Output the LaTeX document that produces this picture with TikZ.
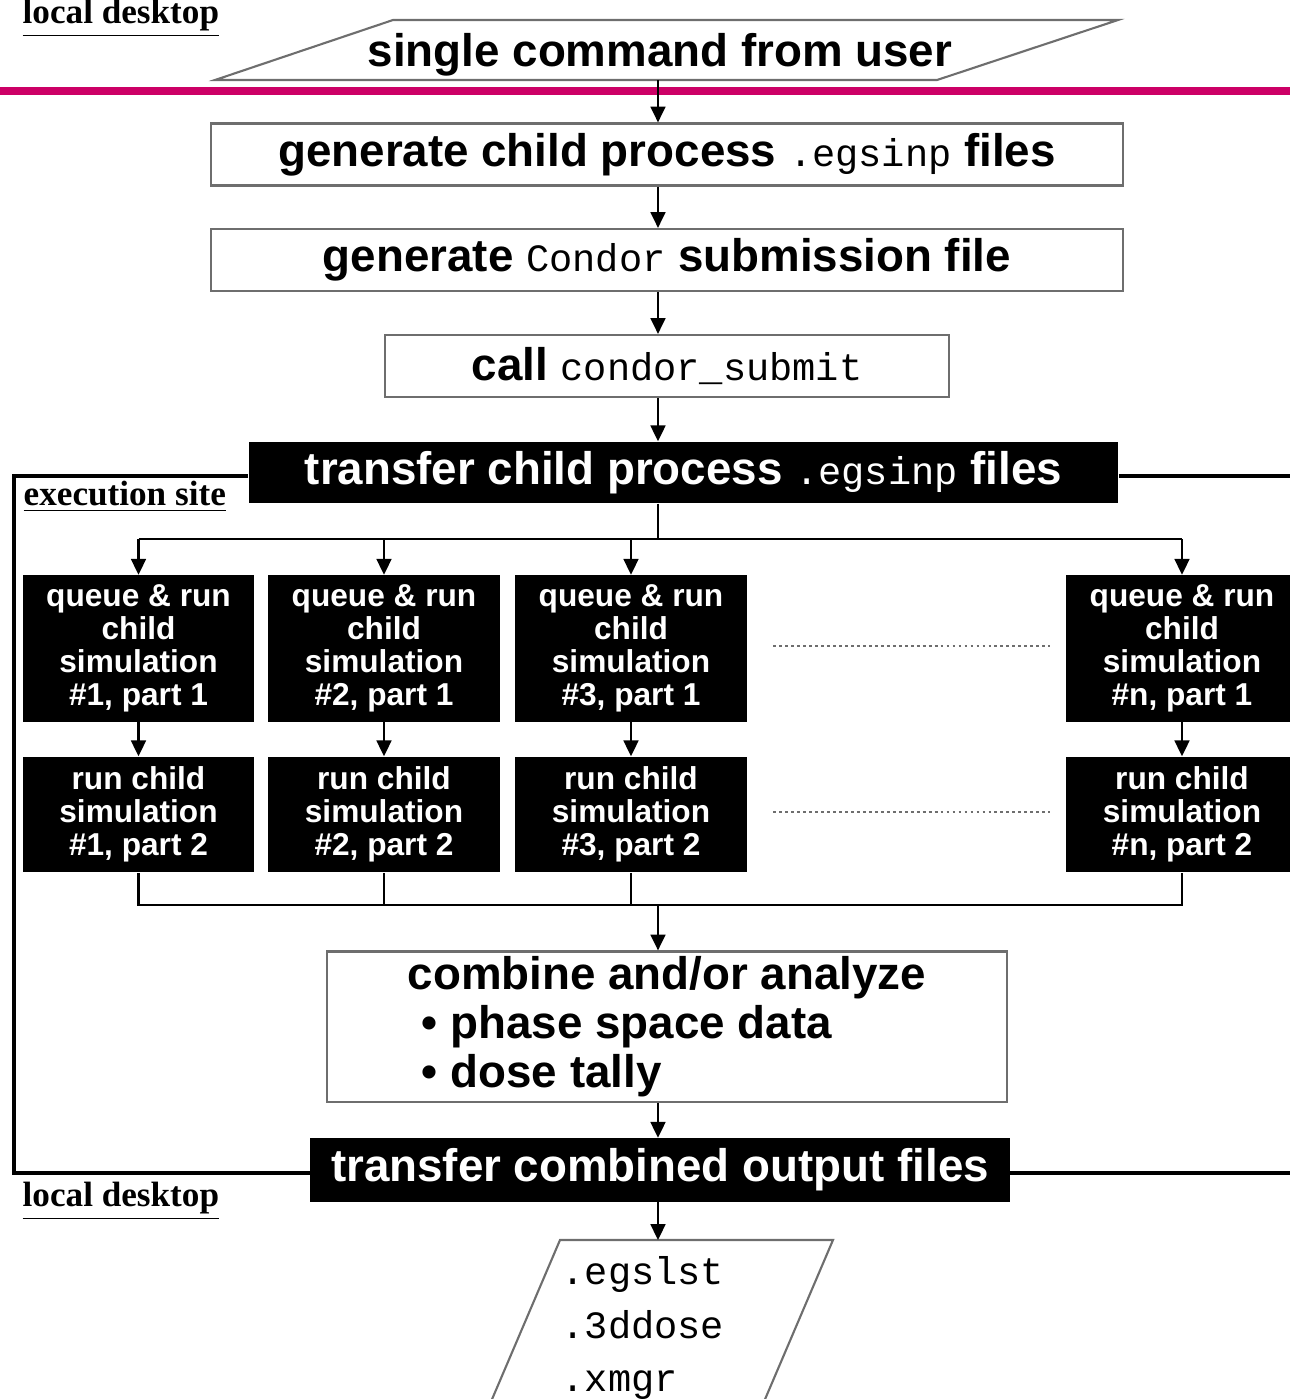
\documentclass[tikz,border=0pt]{standalone}
\usepackage{fontspec}
\setmainfont{Liberation Serif}
\setsansfont{Liberation Sans}
\setmonofont{Liberation Mono}
\usetikzlibrary{arrows.meta}
\definecolor{slidemagenta}{RGB}{204, 0, 102}
\definecolor{boxgray}{RGB}{110, 110, 110}
\newcommand\boxfont{\fontsize{13}{14}\selectfont\sffamily\bfseries}
\newcommand\simfont{\fontsize{9}{9.4}\selectfont\sffamily\bfseries}
\newcommand\codefont{\fontsize{11}{13}\selectfont\ttfamily\mdseries}
\newcommand\sitefont{\fontsize{10}{12}\selectfont\rmfamily\bfseries}
\newcommand\code[1]{{\codefont #1}}

\begin{document}
\begin{tikzpicture}[x=0.01cm, y=-0.01cm,
    conn/.style={line width=0.7pt},
    arr/.style={conn, -{Triangle[length=4.5pt,width=4.2pt]}},
    frame/.style={line width=1pt},
    wbox/.style={draw=boxgray, line width=0.6pt, fill=white, inner sep=0pt, font=\boxfont},
    bbox/.style={fill=black, text=white, inner sep=0pt, font=\boxfont},
    simbox/.style={fill=black, text=white, inner sep=0pt, minimum width=2.31cm, align=center, font=\simfont},
    site/.style={font=\sitefont, inner sep=0pt, anchor=base west},
    dots/.style={boxgray, line width=0.6pt, dash pattern=on 0.8pt off 0.9pt}]
        \useasboundingbox (0,0) rectangle (1290,1399);

        % Local desktop, top
        \node[site] (ldtop) at (22,23) {\underline{local desktop}};
        \draw[boxgray, line width=0.6pt] (215,80) -- (393,20) -- (1118,20) -- (937,80) -- cycle;
        \node[font=\boxfont, inner sep=0pt] (user) at (660,55) {single command from user};
        \coordinate (userb) at (658,80);
        \draw[slidemagenta, line width=2pt] (0,91) -- (1290,91);

        % Preparation steps
        \node[wbox, minimum width=9.12cm, minimum height=0.62cm] (gen) at (667,154.5)
            {generate child process \code{.egsinp} files};
        \node[wbox, minimum width=9.12cm, minimum height=0.62cm] (cond) at (667,260)
            {generate \code{Condor} submission file};
        \node[wbox, minimum width=5.63cm, minimum height=0.62cm] (submit) at (667,366)
            {call \code{condor\_submit}};
        \node[bbox, minimum width=8.69cm, minimum height=0.61cm] (xfer) at (683.5,472.5)
            {transfer child process \code{.egsinp} files};

        \draw[arr] (userb) -- (userb |- gen.north);
        \draw[arr] (gen.south -| userb) -- (cond.north -| userb);
        \draw[arr] (cond.south -| userb) -- (submit.north -| userb);
        \draw[arr] (submit.south -| userb) -- (xfer.north -| userb);

        % Execution site
        \node[site] (exsite) at (23,505) {\underline{execution site}};
        \foreach \n/\x/\k in {1/138.5/1, 2/384/2, 3/631/3, 4/1182/n} {
            \node[simbox, minimum height=1.46cm] (q\n) at (\x,648.5)
                {queue \& run\\child\\simulation\\\#\k, part 1};
            \node[simbox, minimum height=1.15cm] (r\n) at (\x,814.5)
                {run child\\simulation\\\#\k, part 2};
            \draw[arr] (q\n.south) -- (r\n.north);
        }
        \draw[dots, shorten <=0.26cm, shorten >=0.16cm] (q3.east |- 0,646) -- (q4.west |- 0,646);
        \draw[dots, shorten <=0.26cm, shorten >=0.16cm] (r3.east |- 0,812) -- (r4.west |- 0,812);

        % Fan out
        \coordinate (dist) at (658,539);
        \draw[conn] (xfer.south -| dist) -- (dist);
        \draw[conn] (q1.north |- dist) -- (q4.north |- dist);
        \foreach \n in {1,...,4}
            \draw[arr] (q\n.north |- dist) -- (q\n.north);

        % Fan in
        \coordinate (mrg) at (658,905);
        \draw[conn] (r1.south) |- (r4.south |- mrg) -- (r4.south);
        \foreach \n in {2,3}
            \draw[conn] (r\n.south) -- (r\n.south |- mrg);

        \node[wbox, minimum width=6.8cm, minimum height=1.5cm, align=left,
              font=\fontsize{13}{13.9}\selectfont\sffamily\bfseries] (comb) at (667,1026.5)
            {combine and/or analyze\\
             \hspace*{4pt}\textbullet{} phase space data\\
             \hspace*{4pt}\textbullet{} dose tally};
        \draw[arr] (mrg) -- (mrg |- comb.north);

        \node[bbox, minimum width=6.99cm, minimum height=0.63cm] (out) at (660,1170)
            {transfer combined output files};
        \draw[arr] (comb.south -| userb) -- (out.north -| userb);

        % Frame of execution site
        \coordinate (fl) at (14,0);
        \coordinate (fr) at (1300,0);
        \draw[frame] (xfer.west |- 0,476) -| (fl |- 0,1173) -- (out.west |- 0,1173);
        \draw[frame] (xfer.east |- 0,476) -- (fr |- 0,476);
        \draw[frame] (out.east |- 0,1173) -- (fr |- 0,1173);

        % Local desktop, bottom
        \node[site] (ldbot) at (22,1206) {\underline{local desktop}};
        \coordinate (filest) at (658,1240);
        \draw[boxgray, line width=0.6pt] (490,1404) -- (560,1240) -- (833,1240) -- (763,1404);
        \node[anchor=west, inner sep=0pt, align=left, font=\fontsize{11}{15.3}\selectfont\ttfamily] (files) at (561,1328)
            {.egslst\\.3ddose\\.xmgr};
        \draw[arr] (out.south -| userb) -- (filest);
    \end{tikzpicture}
\end{document}
